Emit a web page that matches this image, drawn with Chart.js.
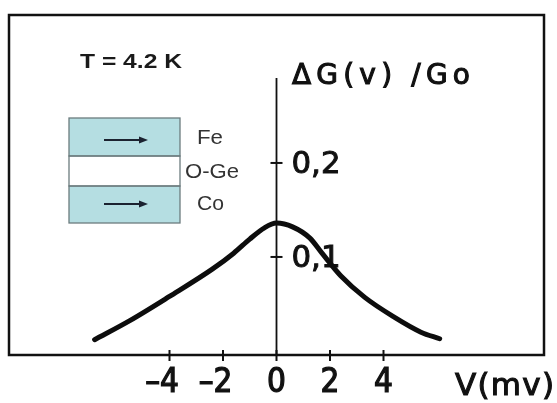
<!DOCTYPE html>
<html>
<head>
<meta charset="utf-8">
<script src="https://cdn.jsdelivr.net/npm/chart.js@4.4.1/dist/chart.umd.min.js"></script>
<style>
  html, body { margin: 0; padding: 0; background: #fff; }
  #wrap { width: 557px; height: 403px; }
</style>
</head>
<body>
<div id="wrap"><canvas id="graf"></canvas></div>
<script>
// curve: bias voltage (mV) vs ΔG(v)/G0
let volt = [-6.8, -5.5, -4.0, -2.4, -1.6, -1.0, -0.45, 0, 0.6, 1.25, 1.7, 2.4, 3.3, 4.4, 5.4, 6.1];
let dG = [0.012, 0.032, 0.058, 0.087, 0.104, 0.119, 0.131, 0.136, 0.132, 0.120, 0.104, 0.080, 0.057, 0.036, 0.020, 0.013];
let x_ticks = [-4, -2, 0, 2, 4];
let y_ticks = [0.1, 0.2];
let layers = ['Fe', 'O-Ge', 'Co'];
let temp_label = 'T = 4.2 K';

const LETTER = '"DejaVu Sans Condensed", "DejaVu Sans", sans-serif';
const WIDE = '"DejaVu Sans", sans-serif';
const ARIAL = '"Liberation Sans", Arial, sans-serif';

// draw text squeezed/stretched to a given width
function stretchText(ctx, txt, x, y, w, stroke) {
    const m = ctx.measureText(txt).width;
    ctx.save();
    ctx.translate(x, y);
    ctx.scale(w / m, 1);
    ctx.fillText(txt, 0, 0);
    if (stroke) { ctx.lineWidth = stroke; ctx.strokeText(txt, 0, 0); }
    ctx.restore();
}

// draw text spread out with letter spacing to a given width
function spacedText(ctx, txt, x, y, w, stroke) {
    ctx.letterSpacing = '0px';
    const m = ctx.measureText(txt).width;
    const n = [...txt].length;
    const sp = (w - m) / (n - 1);
    if (sp < 0) { stretchText(ctx, txt, x, y, w, stroke); return; }
    ctx.letterSpacing = sp + 'px';
    ctx.fillText(txt, x, y);
    if (stroke) { ctx.lineWidth = stroke; ctx.strokeText(txt, x, y); }
    ctx.letterSpacing = '0px';
}

function arrow(ctx, x1, x2, y) {
    ctx.beginPath();
    ctx.moveTo(x1, y);
    ctx.lineTo(x2 - 6, y);
    ctx.stroke();
    ctx.beginPath();
    ctx.moveTo(x2, y);
    ctx.lineTo(x2 - 9, y - 3.5);
    ctx.lineTo(x2 - 9, y + 3.5);
    ctx.closePath();
    ctx.fill();
}

const decor = {
    id: 'decor',
    beforeDatasetsDraw(chart) {
        const ctx = chart.ctx;
        const a = chart.chartArea;
        const xs = chart.scales.x, ys = chart.scales.y;
        const x0 = xs.getPixelForValue(0);
        ctx.save();
        ctx.strokeStyle = '#111';
        ctx.fillStyle = '#111';

        // frame
        ctx.lineWidth = 2.5;
        ctx.strokeRect(a.left, a.top, a.right - a.left, a.bottom - a.top);

        // vertical axis through V = 0
        ctx.lineWidth = 1.8;
        ctx.beginPath();
        ctx.moveTo(x0, 78);
        ctx.lineTo(x0, a.bottom);
        ctx.stroke();

        // ticks crossing the axes
        ctx.lineWidth = 2;
        xs.ticks.forEach(t => {
            const px = xs.getPixelForValue(t.value);
            ctx.beginPath();
            ctx.moveTo(px, a.bottom - 5);
            ctx.lineTo(px, a.bottom + 6);
            ctx.stroke();
        });
        ctx.textAlign = 'left';
        ctx.textBaseline = 'middle';
        ctx.font = '31px ' + LETTER;
        ys.ticks.forEach(t => {
            const py = ys.getPixelForValue(t.value);
            ctx.lineWidth = 2;
            ctx.beginPath();
            ctx.moveTo(x0 - 6, py);
            ctx.lineTo(x0 + 6, py);
            ctx.stroke();
            stretchText(ctx, t.value.toFixed(1).replace('.', ','), x0 + 15, py + 2, 49, 0.9);
        });

        // axis titles
        ctx.font = '28px ' + WIDE;
        spacedText(ctx, 'ΔG(v) /Go', 292, 77, 178, 1.1);
        ctx.font = '31px ' + WIDE;
        spacedText(ctx, 'V(mv)', 455, 387, 99, 1.1);

        // temperature
        ctx.font = 'bold 20px ' + ARIAL;
        ctx.fillStyle = '#1a1a1a';
        stretchText(ctx, temp_label, 80, 62, 102);

        // layer stack sketch
        const bx = 69, bw = 111;
        const rows = [[118, 156], [156, 186], [186, 223]];
        const fills = ['#b5dee2', '#ffffff', '#b5dee2'];
        rows.forEach((r, i) => {
            ctx.fillStyle = fills[i];
            ctx.fillRect(bx, r[0], bw, r[1] - r[0]);
        });
        ctx.strokeStyle = '#6c7c7e';
        ctx.lineWidth = 1.3;
        rows.forEach(r => ctx.strokeRect(bx, r[0], bw, r[1] - r[0]));
        ctx.strokeStyle = '#1b2230';
        ctx.fillStyle = '#1b2230';
        ctx.lineWidth = 2;
        arrow(ctx, 104, 148, 140);
        arrow(ctx, 104, 148, 204);

        ctx.fillStyle = '#333';
        ctx.font = '20px ' + ARIAL;
        const lx = [197, 185, 197];
        const lw = [26, 54, 27];
        const ly = [138, 172, 204];
        layers.forEach((s, i) => stretchText(ctx, s, lx[i], ly[i], lw[i]));
        ctx.restore();
    }
};

new Chart(document.getElementById('graf'), {
    type: 'line',
    data: {
        datasets: [{
            data: volt.map((v, i) => ({x: v, y: dG[i]})),
            borderColor: '#0d0d0d',
            borderWidth: 5,
            borderCapStyle: 'round',
            borderJoinStyle: 'round',
            pointRadius: 0,
            cubicInterpolationMode: 'monotone',
            fill: false
        }]
    },
    options: {
        responsive: true,
        maintainAspectRatio: false,
        animation: false,
        layout: {padding: {left: 9, top: 15, right: 13, bottom: 0}},
        plugins: {legend: {display: false}, tooltip: {enabled: false}},
        scales: {
            x: {
                type: 'linear',
                min: -10,
                max: 10,
                afterBuildTicks: s => { s.ticks = x_ticks.map(v => ({value: v})); },
                afterFit: s => { s.height = 48; },
                grid: {display: false, drawTicks: false},
                border: {display: false},
                ticks: {
                    padding: 9,
                    color: '#111',
                    textStrokeColor: '#111',
                    textStrokeWidth: 1.2,
                    font: {family: LETTER, size: 33},
                    callback: v => v < 0 ? '–' + Math.abs(v) + '\u2002' : String(v)
                }
            },
            y: {
                type: 'linear',
                position: {x: 0},
                min: -0.0043,
                max: 0.3574,
                afterBuildTicks: s => { s.ticks = y_ticks.map(v => ({value: v})); },
                grid: {display: false, drawTicks: false},
                border: {display: false},
                ticks: {display: false}
            }
        }
    },
    plugins: [decor]
});
</script>
</body>
</html>
